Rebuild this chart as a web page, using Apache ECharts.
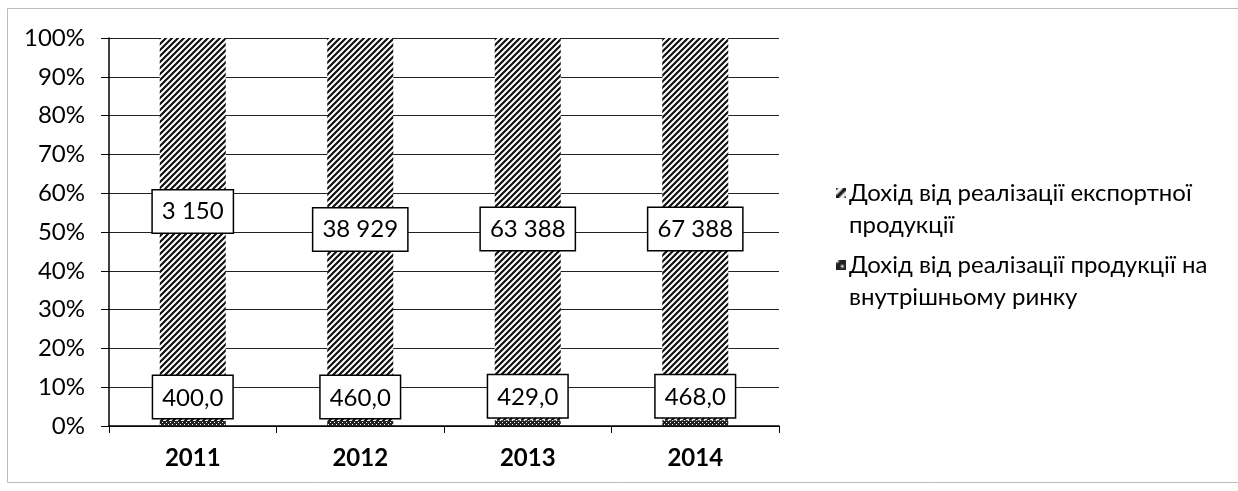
<!DOCTYPE html>
<html>
<head>
<meta charset="utf-8">
<script src="https://cdn.jsdelivr.net/npm/echarts@6/dist/echarts.min.js"></script>
<style>
  html, body { margin: 0; padding: 0; background: #fff; }
  #chart { width: 1238px; height: 491px; }
</style>
</head>
<body>
<div id="chart"></div>
<script>
// ---- data ----
const years = ['2011', '2012', '2013', '2014'];
const exportName = 'Дохід від реалізації експортної продукції';
const domesticName = 'Дохід від реалізації продукції на внутрішньому ринку';
// shares of each bar (%)
const domesticShare = [1.3, 1.3, 1.5, 1.5];
const exportShare = [98.7, 98.7, 98.5, 98.5];
// printed data labels
const exportLabels = ['3 150', '38 929', '63 388', '67 388'];
const domesticLabels = ['400,0', '460,0', '429,0', '468,0'];
const yTicks = [0, 10, 20, 30, 40, 50, 60, 70, 80, 90, 100];
const legendLines = {};
legendLines[exportName] = ['Дохід від реалізації експортної', 'продукції'];
legendLines[domesticName] = ['Дохід від реалізації продукції на', 'внутрішньому ринку'];

// ---- patterns ----
function hatchPattern() {
  const c = document.createElement('canvas');
  c.width = 6; c.height = 6;
  const g = c.getContext('2d');
  g.fillStyle = '#fff'; g.fillRect(0, 0, 6, 6);
  g.strokeStyle = '#111'; g.lineWidth = 2.2;
  g.beginPath();
  g.moveTo(-1, 7); g.lineTo(7, -1);
  g.moveTo(-4, 4); g.lineTo(4, -4);
  g.moveTo(2, 10); g.lineTo(10, 2);
  g.stroke();
  return c;
}
function densePattern() {
  const c = document.createElement('canvas');
  c.width = 4; c.height = 4;
  const g = c.getContext('2d');
  g.fillStyle = '#222'; g.fillRect(0, 0, 4, 4);
  g.fillStyle = '#fff';
  g.fillRect(0, 0, 1, 1); g.fillRect(2, 2, 1, 1);
  return c;
}
const hatchCanvas = hatchPattern();
const denseCanvas = densePattern();

const FONT = 'Lato, "Noto Sans", sans-serif';
const labelBox = {
  show: true,
  color: '#000',
  fontFamily: FONT,
  fontSize: 24,
  backgroundColor: '#fff',
  borderColor: '#000',
  borderWidth: 1.5,
  padding: [10, 9, 8, 9]
};

const exportOffsets = [-18, 0, 0, 0];

const chart = echarts.init(document.getElementById('chart'));
chart.setOption({
  animation: false,
  backgroundColor: '#fff',
  grid: { left: 109, right: 459, top: 38, bottom: 65 },
  graphic: [{
    type: 'rect',
    shape: { x: 7.5, y: 8.5, width: 1240, height: 474 },
    style: { fill: 'none', stroke: '#bbb', lineWidth: 1 },
    silent: true
  }],
  legend: {
    orient: 'vertical',
    left: 826,
    top: 172,
    itemWidth: 0,
    itemHeight: 0,
    itemGap: 8,
    icon: 'rect',
    data: [exportName, domesticName],
    formatter: function (n) {
      const key = n === exportName ? 'icE' : 'icD';
      const l = legendLines[n];
      return '{' + key + '|}{sp|}{t|' + l[0] + '}\n{ind|}{t|' + l[1] + '}';
    },
    textStyle: {
      fontFamily: FONT,
      fontSize: 24,
      lineHeight: 32,
      color: '#000',
      rich: {
        t: { fontFamily: FONT, fontSize: 24, lineHeight: 32, color: '#000' },
        icE: { width: 10, height: 10, backgroundColor: { image: hatchCanvas }, padding: 0 },
        icD: { width: 10, height: 10, backgroundColor: { image: denseCanvas }, padding: 0 },
        sp: { width: 3, height: 10 },
        ind: { width: 13, height: 10 }
      }
    }
  },
  xAxis: {
    type: 'category',
    data: years,
    axisLine: { lineStyle: { color: '#000', width: 1.5 } },
    axisTick: { show: true, length: 7, lineStyle: { color: '#000' } },
    axisLabel: {
      color: '#000',
      fontFamily: FONT,
      fontWeight: 'bold',
      fontSize: 24,
      margin: 20
    }
  },
  yAxis: {
    type: 'value',
    min: yTicks[0],
    max: yTicks[yTicks.length - 1],
    interval: yTicks[1] - yTicks[0],
    axisLine: { show: true, lineStyle: { color: '#000', width: 1.5 } },
    axisTick: { show: true, length: 8, lineStyle: { color: '#000' } },
    splitLine: { lineStyle: { color: '#222', width: 1.2 } },
    axisLabel: {
      color: '#000',
      fontFamily: FONT,
      fontSize: 24,
      margin: 24,
      formatter: '{value}%'
    }
  },
  series: [
    {
      name: domesticName,
      type: 'bar',
      stack: 'total',
      barWidth: 66,
      itemStyle: { color: { image: denseCanvas, repeat: 'repeat' } },
      label: Object.assign({}, labelBox, {
        position: 'top',
        distance: 1,
        offset: [0, -2],
        formatter: p => domesticLabels[p.dataIndex]
      }),
      z: 3,
      data: domesticShare
    },
    {
      name: exportName,
      type: 'bar',
      stack: 'total',
      barWidth: 66,
      itemStyle: { color: { image: hatchCanvas, repeat: 'repeat' } },
      label: Object.assign({}, labelBox, {
        position: 'inside',
        formatter: p => exportLabels[p.dataIndex]
      }),
      z: 2,
      data: exportShare.map((v, i) => ({ value: v, label: { offset: [0, exportOffsets[i]] } }))
    }
  ]
});
</script>
</body>
</html>
